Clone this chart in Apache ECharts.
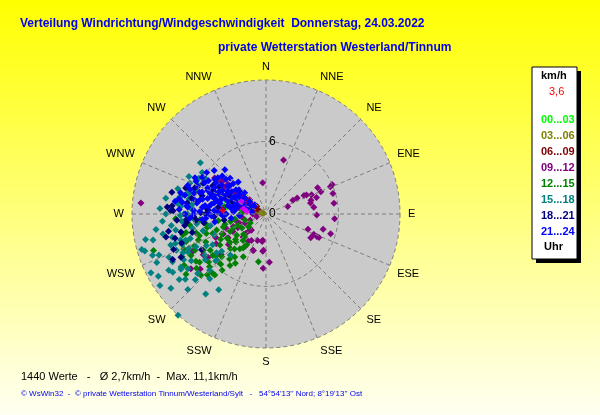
<!DOCTYPE html>
<html>
<head>
<meta charset="utf-8">
<script src="https://cdn.jsdelivr.net/npm/echarts@6/dist/echarts.min.js"></script>
<style>
  html, body { margin: 0; padding: 0; }
  #grafica { width: 600px; height: 415px; }
</style>
</head>
<body>
<div id="grafica"></div>
<script>
// Himmelsrichtungen (Achsenbeschriftung)
const compassLabels = ['N','NNE','NE','ENE','E','ESE','SE','SSE','S','SSW','SW','WSW','W','WNW','NW','NNW'];
const hourLabels = ['00...03','03...06','06...09','09...12','12...15','15...18','18...21','21...24'];
const hourColors = ['#00ff00','#808000','#800000','#800080','#008000','#008080','#000080','#0000ff'];

// [Richtung in Grad, Geschwindigkeit km/h]
const h00_03 = [[289,3.6],[297,2.7],[282,2.2],[280,3.3],[286,2.9],[292,1.8]];
const h03_06 = [[288,0.2],[285,0.4],[290,0.5],[287,0.6],[292,0.7],[283,0.8],[289,0.9],[286,1.0],[294,0.4],[280,0.3],[291,0.8],[284,0.6]];
const h06_09 = [[310,1.0],[305,1.6],[300,0.8]];
const h09_12 = [
  [18,4.7],[354,2.6],[71,1.9],[63,2.5],[63,2.9],[64,3.5],[65,3.7],[67,4.1],[73,3.9],[76,3.8],[72,4.4],[63,4.8],[68,4.9],
  [66,6.0],[67,5.8],[73,5.8],[81,5.7],[82,4.0],[91,4.2],[94,5.7],[110,3.7],[105,4.9],[113,4.3],[114,4.6],[114,4.8],[118,4.2],[107,5.6],
  [187,2.2],[188,2.3],[185,3.1],[183,4.5],[176,4.0],[200,3.2],[213,2.7],[226,2.3],[224,1.8],[225,1.9],[224,2.6],[209,2.5],
  [245,3.9],[234,7.7],[230,7.1],[243,6.8],[199,3.2],[198,2.3],[222,1.8],[242,3.1],[239,4.8],[237,6.2],[213,3.2],[225,2.7],[184,3.0],
  [275,10.4],[305,5.1],[307,4.5],[304,3.3],[304,2.8],[307,2.0],[302,1.4],[305,5.2],[306,4.6],[308,4.0],[307,3.1],[307,2.4],
  [311,1.8],[309,1.2],[270,1.1],[250,2.3],[249,1.4],[249,2.9],[250,3.5],[254,0.8],[283,1.1],[286,1.8],[286,2.7],
  [292,3.2],[296,2.0],[300,1.7],[283,2.3],[279,1.6],[262,2.0],[256,2.5],[247,1.9],[244,2.6],[238,3.7],[245,4.6],[231,4.0],
  [228,5.0],[233,6.0],[300,5.8],[303,4.1],[298,3.0]
];
const h12_15 = [
  [267,7.5],[256,7.1],[252,5.8],[252,5.2],[252,4.3],[253,3.7],[244,3.3],[234,3.0],[227,3.4],[223,2.6],[234,1.8],[212,3.0],
  [232,3.8],[236,4.6],[237,5.5],[232,5.6],[230,6.2],[225,5.6],[226,5.1],[226,4.1],[217,3.6],[216,4.4],[189,4.0],[227,6.4],
  [220,6.6],[215,5.2],[251,7.0],[243,6.6],[243,7.8],[236,7.0],[227,7.4],[252,9.8],[222,6.6],[233,8.3],[234,6.8],[269,3.4],
  [280,3.5],[277,2.6],[276,1.9],[288,1.5],[268,2.2],[254,1.8],[240,1.5],[258,3.0],[262,4.0],[248,2.5],[260,5.0],[245,5.5],
  [255,6.0],[265,5.5],[246,4.0],[250,4.7],[241,4.3],[238,3.8],[230,3.3],[222,3.9],[219,4.8],[222,5.6],[230,5.4],[240,6.0],
  [246,6.5],[249,6.0],[241,7.1],[232,7.3],[224,7.0],[218,5.9],[212,4.8],[208,4.0],[214,3.4],[221,2.9],[228,2.5],[240,2.3],
  [247,2.9],[256,3.5],[261,2.6],[257,5.0],[262,6.4],[257,6.8],[247,7.4],[238,8.0]
];
const h15_18 = [
  [308,6.9],[298,6.3],[298,5.8],[300,5.7],[270,8.3],[281,7.3],[259,8.7],[257,9.6],[254,10.7],[253,10.5],[243,10.7],[240,10.3],
  [232,10.0],[221,11.1],[231,8.6],[237,8.4],[240,9.3],[243,8.7],[221,7.1],[212,7.4],[227,5.7],[263,7.9],[252,8.3],[252,7.9],
  [253,7.4],[245,7.6],[246,7.0],[245,6.4],[238,7.3],[252,7.0],[275,7.1],[269,7.1],[277,7.4],[285,6.6],[289,6.2],[293,6.1],
  [259,6.2],[252,6.6],[250,7.4],[248,4.6],[240,5.1],[230,4.8],[227,5.6],[221,4.5],[236,6.1],[262,5.8],[277,6.2],[270,6.5],
  [238,9.1],[238,8.3],[233,6.3],[285,6.7],[282,7.2],[274,6.2],[270,6.8],
  [265,7.0],[260,7.6],[256,8.0],[248,8.0],[246,8.8],[249,9.5],[262,9.2],[266,8.6],[273,8.8],[279,8.4],[286,7.6],[292,6.8],
  [244,7.2],[241,7.8],[235,7.9],[229,7.5],[233,9.0],[226,9.0],[217,8.3],[225,6.6],[232,5.2],[242,5.6],[255,5.4],[258,4.7],
  [266,6.0],[281,6.5],[303,6.3],[296,7.1],[250,10.0],[258,10.2],[246,9.9],[236,10.6],[227,8.0]
];
const h18_21 = [
  [272,7.7],[282,6.3],[294,4.8],[266,6.6],[296,5.8],[311,2.9],[296,3.3],[274,4.8],[267,4.3],[271,5.4],[257,8.5],[244,8.6],
  [243,7.9],[272,7.9],[265,5.8],[264,6.6],[241,6.1],[251,7.4],[274,8.2],[286,5.5],[278,4.0],[290,3.0],[300,4.5],[284,2.5],[262,3.5],
  [280,5.8],[276,5.0],[286,4.3],[292,3.6],[270,5.0],[268,6.0],[262,6.8],[258,7.2],[255,7.8],[260,8.2],[266,7.4],[278,6.6],
  [288,7.0],[283,8.0],[275,7.8],[262,5.2],[256,6.3],[249,8.2],[290,6.3],[298,5.0]
];
const h21_24 = [
  [311,4.8],[315,4.2],[304,5.1],[297,5.7],[292,6.1],[288,6.6],[283,6.9],[278,7.0],[275,6.5],[281,6.0],[288,5.8],[292,5.2],
  [297,4.8],[303,4.4],[308,3.8],[309,3.2],[306,2.7],[307,2.2],[307,1.7],[309,1.2],[288,4.7],[292,4.1],[298,3.6],[294,2.8],
  [291,2.1],[278,5.1],[280,4.6],[283,3.9],[282,3.2],[281,2.5],[281,1.8],[272,5.5],[270,4.7],[272,4.0],[270,3.3],[263,2.9],
  [266,2.2],[270,6.0],[270,6.7],[317,5.0],[319,3.5],[307,5.0],[288,1.6],[278,1.2],[297,6.6],[273,7.2],[267,6.3],[265,5.3],
  [261,4.3],[285,5.0],[295,3.1],[280,7.3],[278,7.6],
  [300,5.5],[302,4.9],[296,4.3],[293,3.8],[289,3.4],[285,4.2],[283,5.4],[286,6.2],[279,5.8],[276,5.3],[274,4.3],[276,3.6],
  [279,2.9],[285,2.7],[290,2.5],[295,2.2],[300,2.9],[303,3.4],[306,3.9],[311,4.4],[313,3.7],[300,6.1],[295,6.4],[290,6.9],
  [284,7.3],[282,5.6],[287,4.5],[292,4.5],[298,4.1],[301,3.7],[289,5.6],[294,5.3],[276,6.6],[273,6.0],[277,4.8],[271,3.8],
  [268,4.5],[266,5.0],[268,3.6],[274,2.7],[285,1.9],[296,1.6],[302,2.5],[312,3.0],[315,2.5],[298,1.2],[288,3.9],[283,3.2],
  [290,4.9],[305,6.0],[310,5.6],[282,4.4]
];
const extraMarks = [[277,1.6],[296,2.3],[283,1.9]];
const currentValue = [[275,3.6]];

const hourData = [h00_03, h03_06, h06_09, h09_12, h12_15, h15_18, h18_21, h21_24];
const radiusTicks = [0, 6];
const maxSpeed = 11.1;

const toPolar = arr => arr.map(p => [p[1], p[0]]);

const series = hourData.map((d, i) => ({
  name: hourLabels[i],
  type: 'scatter',
  coordinateSystem: 'polar',
  polarIndex: 1,
  symbol: 'diamond',
  symbolSize: 7,
  itemStyle: { color: hourColors[i], opacity: 1 },
  data: toPolar(d)
}));
series.push({
  type: 'scatter', coordinateSystem: 'polar', polarIndex: 1, symbol: 'diamond', symbolSize: 7,
  itemStyle: { color: '#ff00ff' }, data: toPolar(extraMarks)
});
series.push({
  type: 'scatter', coordinateSystem: 'polar', polarIndex: 1, symbol: 'diamond', symbolSize: 7,
  itemStyle: { color: '#ff0000' }, data: toPolar(currentValue)
});

const myChart = echarts.init(document.getElementById('grafica'));

const titleFont = { color: '#0000ee', fontSize: 12, fontWeight: 'bold' };

myChart.setOption({
  animation: false,
  backgroundColor: {
    type: 'linear', x: 0, y: 0, x2: 0, y2: 1,
    colorStops: [{ offset: 0, color: '#ffff00' }, { offset: 1, color: '#fffff2' }]
  },
  textStyle: { fontFamily: 'Liberation Sans, Arial, sans-serif' },
  title: [
    { text: 'Verteilung Windrichtung/Windgeschwindigkeit  Donnerstag, 24.03.2022', left: 20, top: 18, padding: 0, textStyle: titleFont },
    { text: 'private Wetterstation Westerland/Tinnum', left: 218, top: 42, padding: 0, textStyle: titleFont },
    {
      text: '1440 Werte   -   Ø 2,7km/h  -  Max. 11,1km/h',
      left: 21, top: 371, padding: 0,
      textStyle: { color: '#000', fontSize: 11, fontWeight: 'normal' }
    },
    {
      text: '© WsWin32  -  © private Wetterstation Tinnum/Westerland/Sylt   -   54°54\'13\'\' Nord; 8°19\'13\'\' Ost',
      left: 21, top: 390, padding: 0,
      textStyle: { color: '#0000ee', fontSize: 8, fontWeight: 'normal' }
    }
  ],
  // polar 0: graue Scheibe, polar 1: Gitter + Punkte
  polar: [
    { center: [266, 214], radius: 134 },
    { center: [266, 214], radius: 134 }
  ],
  angleAxis: [
    { polarIndex: 0, type: 'value', min: 0, max: 360, startAngle: 90, show: false },
    {
      polarIndex: 1, z: 3,
      type: 'value', min: 0, max: 360, interval: 22.5, startAngle: 90, clockwise: true,
      axisLine: { show: false },
      axisTick: { show: false },
      axisLabel: {
        color: '#000', fontSize: 11, margin: 8,
        formatter: v => compassLabels[Math.round(v / 22.5) % 16]
      },
      splitLine: { show: true, lineStyle: { color: '#7c7c7c', type: [4, 3], width: 1 } }
    }
  ],
  radiusAxis: [
    {
      polarIndex: 0, z: -2,
      type: 'value', min: 0, max: maxSpeed,
      axisLine: { show: false }, axisTick: { show: false }, axisLabel: { show: false },
      splitLine: { show: false },
      splitArea: { show: true, areaStyle: { color: ['#cacaca'] } }
    },
    {
      polarIndex: 1, z: 3,
      type: 'value', min: 0, max: maxSpeed, interval: 6,
      axisLine: { show: false },
      axisTick: { show: false },
      axisLabel: {
        color: '#000', fontSize: 12, margin: -3, align: 'left',
        formatter: v => (radiusTicks.indexOf(v) >= 0 ? String(v) : '')
      },
      splitLine: { show: true, lineStyle: { color: '#7c7c7c', type: [4, 3], width: 1 } }
    }
  ],
  legend: {
    data: hourLabels.map((n, i) => ({ name: n, textStyle: { color: hourColors[i] } })),
    orient: 'vertical',
    left: 536, top: 114, padding: 0,
    icon: 'none', itemWidth: 0, itemHeight: 10, itemGap: 5,
    selectedMode: false,
    textStyle: { fontSize: 11, fontWeight: 'bold' }
  },
  graphic: [
    { type: 'rect', shape: { x: 536, y: 71, width: 45, height: 192 }, style: { fill: '#000' }, silent: true },
    { type: 'rect', shape: { x: 532, y: 67, width: 45, height: 192 }, style: { fill: '#fff', stroke: '#000', lineWidth: 1 }, silent: true },
    { type: 'text', left: 541, top: 70, style: { text: 'km/h', fill: '#000', font: 'bold 11px Liberation Sans, Arial' }, silent: true },
    { type: 'text', left: 549, top: 86, style: { text: '3,6', fill: '#ff0000', font: '11px Liberation Sans, Arial' }, silent: true },
    { type: 'text', left: 544, top: 241, style: { text: 'Uhr', fill: '#000', font: 'bold 11px Liberation Sans, Arial' }, silent: true }
  ],
  series: series
});
</script>
</body>
</html>
